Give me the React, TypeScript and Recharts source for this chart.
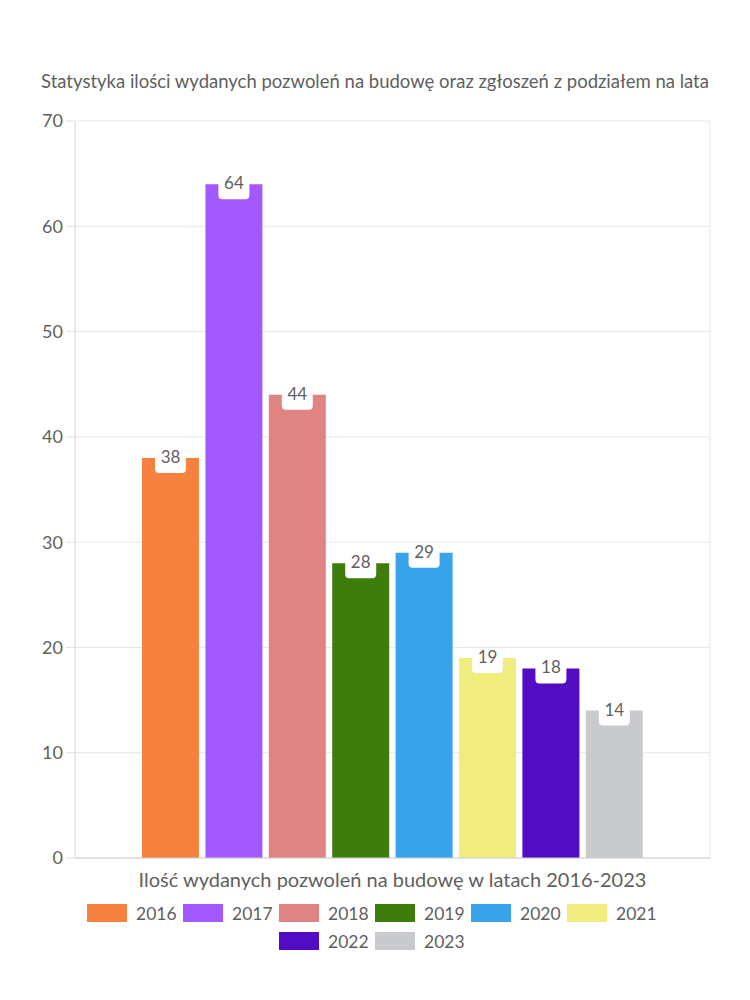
import React from 'react';
import { BarChart, Bar, XAxis, YAxis, CartesianGrid, LabelList, Legend } from 'recharts';

const categories = ['Ilość wydanych pozwoleń na budowę w latach 2016-2023'];
const years = ['2016', '2017', '2018', '2019', '2020', '2021', '2022', '2023'];
const values = [38, 64, 44, 28, 29, 19, 18, 14];
const colors = ['#F5833F', '#A259FF', '#E08383', '#3E7C0B', '#38A3E8', '#F0EC7E', '#520CC2', '#C9CACD'];
const yTicks = [0, 10, 20, 30, 40, 50, 60, 70];

const data = categories.map((name) => {
  const row: Record<string, string | number> = { name };
  years.forEach((y, i) => {
    row[y] = values[i];
  });
  return row;
});

const FONT = 'Lato, "Noto Sans", sans-serif';
const TEXT = '#5f5f5f';

const ValueLabel = (props: any) => {
  const { x, y, width, value } = props;
  const cx = x + width / 2;
  return (
    <g>
      <rect x={cx - 15.5} y={y - 10} width={31} height={25} rx={4} fill="#fff" />
      <text x={cx} y={y + 5} textAnchor="middle" fontSize={17} fill={TEXT} fontFamily={FONT}>
        {value}
      </text>
    </g>
  );
};

const LegendContent = () => (
  <div
    style={{
      display: 'flex',
      flexWrap: 'wrap',
      justifyContent: 'center',
      width: 600,
      margin: '0 auto',
      rowGap: 10,
      fontFamily: FONT,
    }}
  >
    {years.map((y, i) => (
      <div key={y} style={{ display: 'flex', alignItems: 'center', marginRight: 10, height: 18 }}>
        <span style={{ display: 'inline-block', width: 40, height: 18, background: colors[i], marginRight: 9 }} />
        <span style={{ fontSize: 17.5, color: TEXT, width: 37 }}>{y}</span>
      </div>
    ))}
  </div>
);

export default function App() {
  return (
    <div style={{ position: 'absolute', left: 0, top: 0, width: 750, height: 1000, background: '#fff' }}>
      <div
        style={{
          position: 'absolute',
          top: 69,
          left: 0,
          width: 750,
          textAlign: 'center',
          fontFamily: FONT,
          fontSize: 18.5,
          color: TEXT,
          lineHeight: '24px',
        }}
      >
        Statystyka ilości wydanych pozwoleń na budowę oraz zgłoszeń z podziałem na lata
      </div>
      <BarChart
        width={750}
        height={1000}
        data={data}
        margin={{ top: 121, right: 40, bottom: 66, left: 0 }}
        barSize={57}
        barGap={6.4}
      >
        <CartesianGrid
          stroke="#e6e6e6"
          verticalCoordinatesGenerator={({ offset }: any) => [offset.left, offset.left + offset.width]}
        />
        <XAxis
          dataKey="name"
          axisLine={{ stroke: '#cfcfcf' }}
          tickLine={false}
          tickSize={8}
          tickMargin={7}
          tick={{ fontSize: 20, fill: TEXT, fontFamily: FONT }}
        />
        <YAxis
          width={75}
          domain={[0, 70]}
          ticks={yTicks}
          tickSize={9}
          tickMargin={3}
          axisLine={{ stroke: '#e0e0e0' }}
          tickLine={{ stroke: '#e0e0e0' }}
          tick={{ fontSize: 18, fill: TEXT, fontFamily: FONT }}
        />
        {years.map((y, i) => (
          <Bar key={y} dataKey={y} fill={colors[i]} isAnimationActive={false}>
            <LabelList dataKey={y} content={<ValueLabel />} />
          </Bar>
        ))}
        <Legend
          verticalAlign="bottom"
          content={<LegendContent />}
          wrapperStyle={{ left: 0, width: 750, bottom: 50 }}
        />
      </BarChart>
    </div>
  );
}
